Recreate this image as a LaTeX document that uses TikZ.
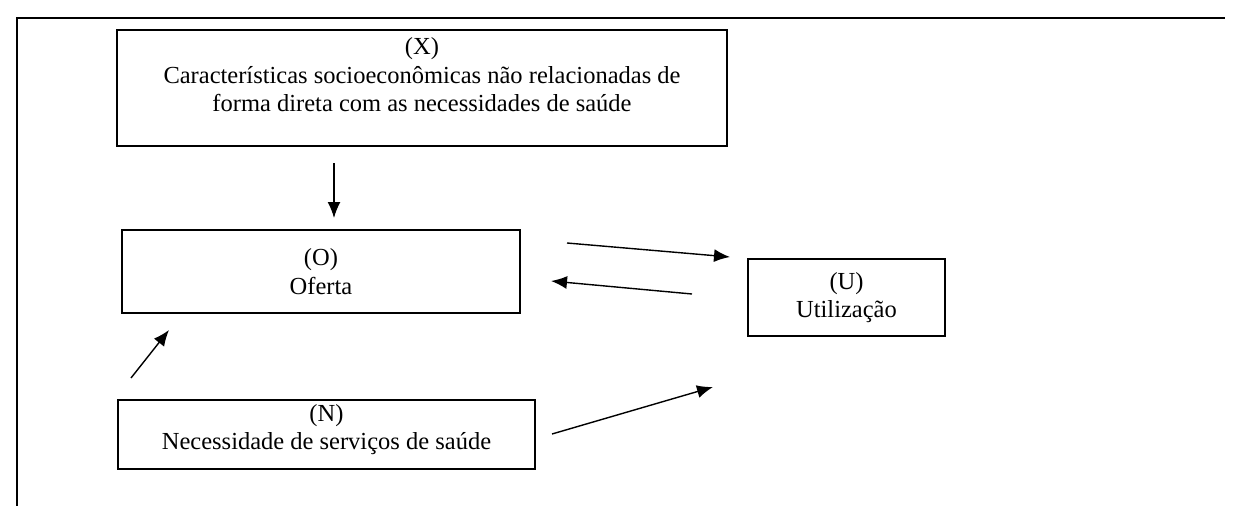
\documentclass[tikz,border=0pt]{standalone}
\usepackage{fontspec}
\setmainfont{Liberation Serif}
\usetikzlibrary{arrows.meta}
\tikzstyle{caixa} =
[rectangle, draw=black, line width=1.3pt, align=center, inner sep=0pt,
font=\fontsize{24.5}{28.5}\selectfont]
\tikzstyle{line} = [draw, line width=1.4pt, -{Latex[length=16pt,width=13pt]}]
\tikzstyle{moldura} = [draw, line width=2pt]

\begin{document}
\begin{tikzpicture}[x=1pt, y=-1pt]
  \useasboundingbox (0,0) rectangle (1245,506);
  % frame
  \path [moldura] (17,506) -- (17,18) -- (1225,18);
  % boxes
  \node [caixa, minimum width=610pt, minimum height=116pt] (X) at (422,88)
   {(X)\\ Características socioeconômicas não relacionadas de\\
   forma direta com as necessidades de saúde\\[-2pt] \mbox{}};
  \node [caixa, minimum width=398pt, minimum height=83pt] (O) at (321,271.5)
   {(O)\\ Oferta};
  \node [caixa, minimum width=197pt, minimum height=77pt] (U) at (846.5,297.5)
   {(U)\\ Utilização};
  \node [caixa, minimum width=417pt, minimum height=69pt] (N) at (326.5,434.5)
   {(N)\\ Necessidade de serviços de saúde\\[-13pt] \mbox{}};
  % arrow ends
  \coordinate (xo1) at (334,163);
  \coordinate (xo2) at (334,218);
  \coordinate (ou1) at (567,243);
  \coordinate (ou2) at (730,257);
  \coordinate (uo1) at (692,294);
  \coordinate (uo2) at (551,281);
  \coordinate (no1) at (131,378);
  \coordinate (no2) at (169,330);
  \coordinate (nu1) at (552,434);
  \coordinate (nu2) at (713,387);
  % arrows
  \path [line] (xo1) -- (xo2);
  \path [line] (ou1) -- (ou2);
  \path [line] (uo1) -- (uo2);
  \path [line] (no1) -- (no2);
  \path [line] (nu1) -- (nu2);
\end{tikzpicture}
\end{document}
